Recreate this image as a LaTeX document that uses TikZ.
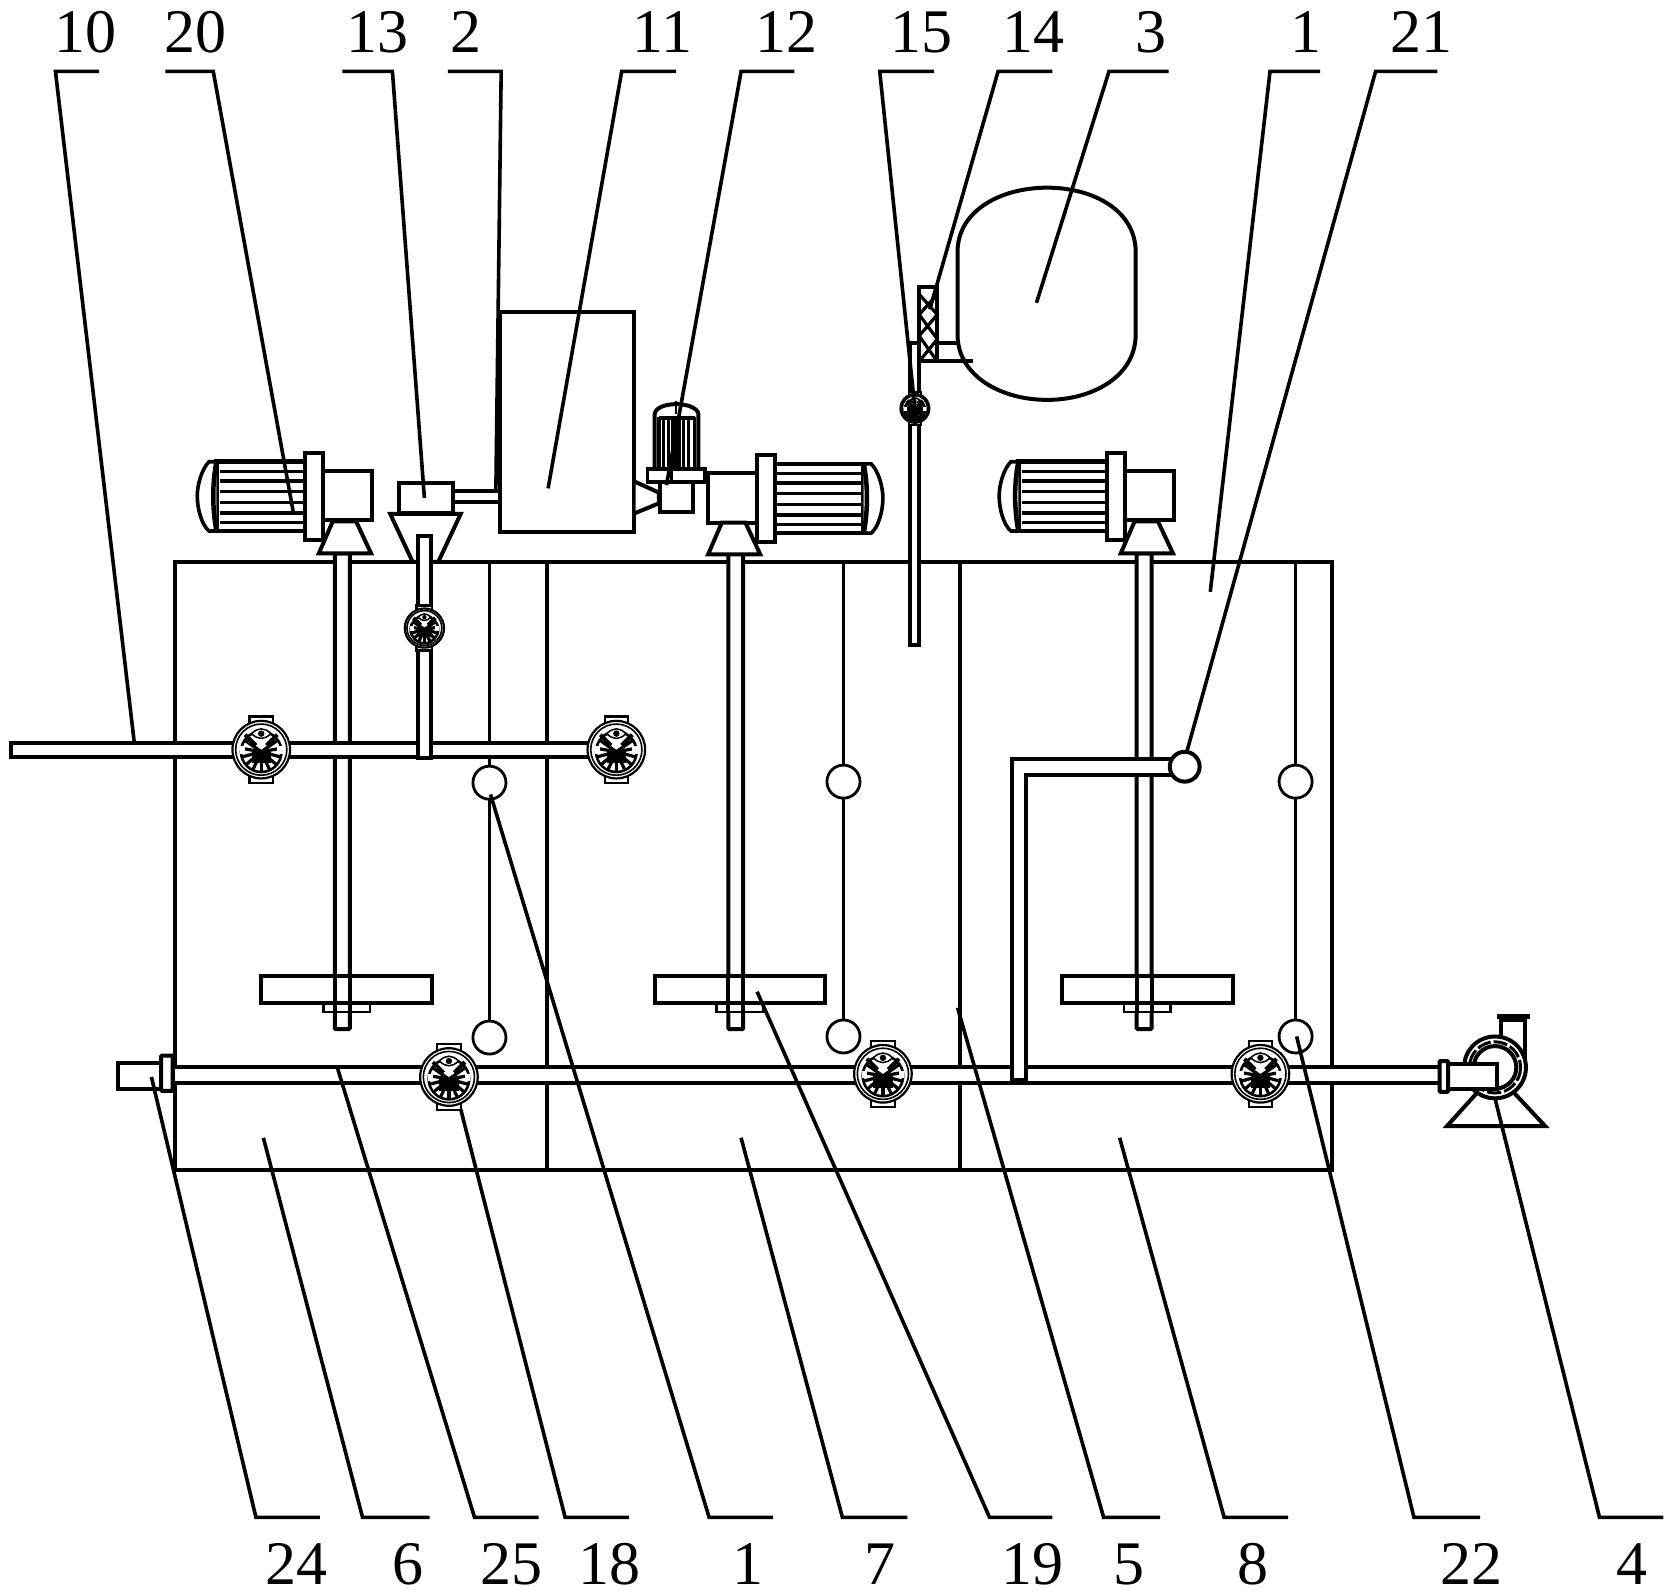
\documentclass[tikz,border=0pt]{standalone}
\usepackage{fontspec}
\setmainfont{Liberation Serif}
\tikzset{
  heavy/.style={line width=4pt,line join=miter},
  thin line/.style={line width=2.8pt},
  pipeline/.style={line width=4pt,fill=white},
  leaderline/.style={line width=3.6pt,line join=miter},
  numlabel/.style={inner sep=0pt,font=\fontsize{62}{62}\selectfont},
  valve/.pic={
    \draw[line width=2.2pt,fill=white] (-11,-31) rectangle (11,31);
    \draw[line width=2.2pt,fill=white] (0,0) circle (27);
    \draw[line width=1.6pt] (0,0) circle (24);
    \foreach \a in {-35,-10,15,40,65,90,115,140,165,190,215}{\draw[line width=3.2pt] (0,2) -- ++(\a:19);}
    \draw[line width=4pt] (-15,-14) -- (-5,-4);
    \draw[line width=4pt] (15,-14) -- (5,-4);
    \fill (-9,2) rectangle (9,13);
    \draw[line width=2.6pt] (0,2) circle (19);
    \draw[line width=1.5pt,fill=white] (-9,-15) .. controls (-3,-21) and (3,-21) .. (9,-15) .. controls (3,-9) and (-3,-9) .. (-9,-15);
    \fill (0,-15) circle (3);
    \fill[white] (-20,-3) rectangle (-15,4);
    \fill[white] (15,-3) rectangle (20,4);
  },
  motor/.pic={
    \draw[line width=4.5pt,fill=white] (-83,-32) rectangle (0,33);
    \foreach \y in {-23,-14,-4,6,16,25}{\draw[line width=3.4pt] (-80,\y) -- (0,\y);}
    \draw[line width=3.6pt,fill=white] (-83,-32) -- (-90,-32) .. controls (-97,-25) and (-101,-10) .. (-101,0)
       .. controls (-101,12) and (-97,27) .. (-90,33) -- (-83,33);
    \draw[line width=4.5pt] (-83,-32) .. controls (-87,-12) and (-87,12) .. (-83,33);
    \draw[heavy,fill=white] (17,-23) rectangle (63,23);
    \draw[heavy,fill=white] (0,-40) rectangle (17,41);
  },
  motorstand/.pic={
    \draw[heavy,fill=white] (-11,0) -- (11,0) -- (25,30) -- (-24,30) -- cycle;
  },
  paddle/.pic={
    \draw[heavy,fill=white] (-80,-13) rectangle (80,13);
    \draw[line width=2.8pt,fill=white] (-22,13) rectangle (22,21);
  },
  shaftpipe/.pic={
    \draw[line width=4pt,fill=white,rounded corners=1pt] (-7,0) rectangle (7,446);
  },
  float/.pic={
    \draw[thin line] (0,0) -- (0,-192);
    \draw[thin line,fill=white] (0,15) circle (15.5);
    \draw[thin line] (0,31) -- (0,239);
    \draw[thin line,fill=white] (0,254) circle (15.5);
  }
}
\begin{document}
\begin{tikzpicture}[x=1.0663pt,y=-1.0663pt]
\useasboundingbox (0,0) rectangle (1568,1495.8);
% tank and walls
\draw[heavy] (164,527) rectangle (1249,1097);
\draw[heavy] (513,527) -- (513,1097);
\draw[heavy] (900,527) -- (900,1097);
% floats
\pic (fa) at (459,719) {float};
\pic (fb) at (791,718) {float};
\pic (fc) at (1215,718) {float};
% shafts
\pic (sa) at (321,519) {shaftpipe};
\pic (sb) at (690,519) {shaftpipe};
\pic (sc) at (1073,519) {shaftpipe};
% paddles
\pic (pa) at (325,928) {paddle};
\pic (pb) at (694,928) {paddle};
\pic (pc) at (1076,928) {paddle};
\draw[line width=4pt] (314,915) -- (314,949) (328,915) -- (328,949);
\draw[line width=4pt] (683,915) -- (683,949) (697,915) -- (697,949);
\draw[line width=4pt] (1066,915) -- (1066,949) (1080,915) -- (1080,949);
% motors
\pic (ma) at (286,465) {motor};
\pic[xscale=-1] (mb) at (727,467) {motor};
\pic (mc) at (1038,465) {motor};
\pic (sta) at (323,489) {motorstand};
\pic (stb) at (688,490) {motorstand};
\pic (stc) at (1075,489) {motorstand};
% box 11 and connecting pipe
\draw[heavy,fill=white] (469,293) rectangle (595,499);
\draw[heavy,fill=white] (425,460) rectangle (469,471);
% hopper 13
\draw[heavy,fill=white] (374,453) rectangle (425,481);
\draw[heavy,fill=white] (366,482) -- (432,482) -- (411,527) -- (387,527) -- cycle;
% small motor 12
\draw[heavy,fill=white] (596,452) -- (618,462) -- (618,472) -- (596,481);
\draw[heavy,fill=white] (619,451) rectangle (650,480);
\draw[heavy,fill=white] (614,388) .. controls (616,376) and (652,376) .. (655,388) -- (655,440) -- (614,440) -- cycle;
\fill (618,390) rectangle (652,394);
\foreach \x in {618,622,627,631,634,637,641,646,651}{\draw[line width=3.2pt] (\x,391) -- (\x,440);}
\draw[line width=3.4pt,fill=white] (607,440) rectangle (661,452);
\draw[line width=2.8pt] (634,376) -- (634,388) (630,440) -- (630,452);
% vessel 3
\draw[heavy,fill=white] (898,236) .. controls (898,198) and (938,176) .. (982,176)
   .. controls (1026,176) and (1065,198) .. (1065,236) -- (1065,314)
   .. controls (1065,352) and (1026,375) .. (982,375)
   .. controls (938,375) and (898,352) .. (898,314) -- cycle;
% bracket and pipe
\draw[heavy] (879,322) -- (898,322) (853,339) -- (912,339);
\draw[pipeline] (853,322) -- (862,322) -- (862,605) -- (853,605) -- cycle;
\draw[heavy,fill=white] (862,269) rectangle (879,339);
\draw[line width=3.2pt] (862,276) -- (879,295) -- (862,315) -- (879,339) (862,339) -- (879,318) -- (862,295) -- (879,276);
% pipe 10
\draw[pipeline] (10,697) rectangle (590,710);
% vertical pipe 13
\draw[pipeline] (392,503) rectangle (404,711);
% lower pipe and fittings
\draw[pipeline] (162,1001) rectangle (1360,1016);
\draw[heavy,fill=white] (111,997) rectangle (151,1021);
\draw[heavy,fill=white,rounded corners=1pt] (151,990) rectangle (162,1023);
% riser to 21
\draw[line width=4.5pt,fill=white] (949,1013) -- (949,712) -- (1100,712) -- (1100,727) -- (962,727) -- (962,1013) -- cycle;
\draw[line width=4pt] (949,1016) -- (962,1016);
\draw[line width=4pt,fill=white] (1111,719) circle (14);
% pump 4
\draw[heavy,fill=white] (1357,1056) -- (1385,1025) -- (1420,1025) -- (1449,1056) -- cycle;
\draw[heavy,fill=white] (1408,990) -- (1408,957) -- (1430,957) -- (1430,1005);
\draw[heavy,fill=white] (1402,1001) circle (29);
\draw[line width=3pt,dash pattern=on 14pt off 3pt] (1402,1001) circle (24);
\draw[heavy,fill=white] (1402,1001) circle (20);
\draw[line width=5pt] (1404,953) -- (1435,953);
\draw[heavy,fill=white] (1358,998) rectangle (1404,1021);
\draw[heavy,fill=white,rounded corners=1pt] (1350,995) rectangle (1358,1024);
% valves
\pic (va) at (245,703) {valve};
\pic (vb) at (578,703) {valve};
\pic[scale=.68] (vc) at (398,589) {valve};
\pic[scale=.5] (vd) at (858,383) {valve};
\pic (ve) at (421,1010) {valve};
\pic (vf) at (828,1007) {valve};
\pic (vg) at (1182,1007) {valve};
% leaders, top
\draw[leaderline] (93,67) -- (52,67) -- (126,697);
\draw[leaderline] (155,67) -- (200,67) -- (275,480);
\draw[leaderline] (321,67) -- (368,67) -- (398,467);
\draw[leaderline] (420,67) -- (470,67) -- (465,462);
\draw[leaderline] (634,67) -- (583,67) -- (514,458);
\draw[leaderline] (745,67) -- (695,67) -- (625,455);
\draw[leaderline] (876,67) -- (825,67) -- (858,383);
\draw[leaderline] (987,67) -- (936,67) -- (872,290);
\draw[leaderline] (1096,67) -- (1040,67) -- (972,284);
\draw[leaderline] (1238,67) -- (1191,67) -- (1135,555);
\draw[leaderline] (1348,67) -- (1290,67) -- (1113,705);
% leaders, bottom
\draw[leaderline] (142,1010) -- (240,1423) -- (300,1423);
\draw[leaderline] (247,1067) -- (340,1423) -- (403,1423);
\draw[leaderline] (316,1000) -- (445,1423) -- (505,1423);
\draw[leaderline] (432,1040) -- (530,1423) -- (590,1423);
\draw[leaderline] (460,745) -- (665,1423) -- (725,1423);
\draw[leaderline] (695,1067) -- (790,1423) -- (851,1423);
\draw[leaderline] (710,930) -- (928,1423) -- (987,1423);
\draw[leaderline] (898,945) -- (1035,1423) -- (1088,1423);
\draw[leaderline] (1050,1067) -- (1148,1423) -- (1208,1423);
\draw[leaderline] (1216,972) -- (1326,1423) -- (1388,1423);
\draw[leaderline] (1402,1030) -- (1500,1423) -- (1560,1423);
% labels, top
\node[numlabel] (t10) at (80,30) {10};
\node[numlabel] (t20) at (183,30) {20};
\node[numlabel] (t13) at (354,30) {13};
\node[numlabel] (t2) at (437,30) {2};
\node[numlabel] (t11) at (621,30) {11};
\node[numlabel] (t12) at (738,30) {12};
\node[numlabel] (t15) at (864,30) {15};
\node[numlabel] (t14) at (969,30) {14};
\node[numlabel] (t3) at (1079,30) {3};
\node[numlabel] (t1) at (1225,30) {1};
\node[numlabel] (t21) at (1333,30) {21};
% labels, bottom
\node[numlabel] (b24) at (278,1467) {24};
\node[numlabel] (b6) at (383,1467) {6};
\node[numlabel] (b25) at (480,1467) {25};
\node[numlabel] (b18) at (572,1467) {18};
\node[numlabel] (b1) at (701,1467) {1};
\node[numlabel] (b7) at (825,1467) {7};
\node[numlabel] (b19) at (968,1467) {19};
\node[numlabel] (b5) at (1059,1467) {5};
\node[numlabel] (b8) at (1175,1467) {8};
\node[numlabel] (b22) at (1380,1467) {22};
\node[numlabel] (b4) at (1530,1467) {4};
\end{tikzpicture}
\end{document}
